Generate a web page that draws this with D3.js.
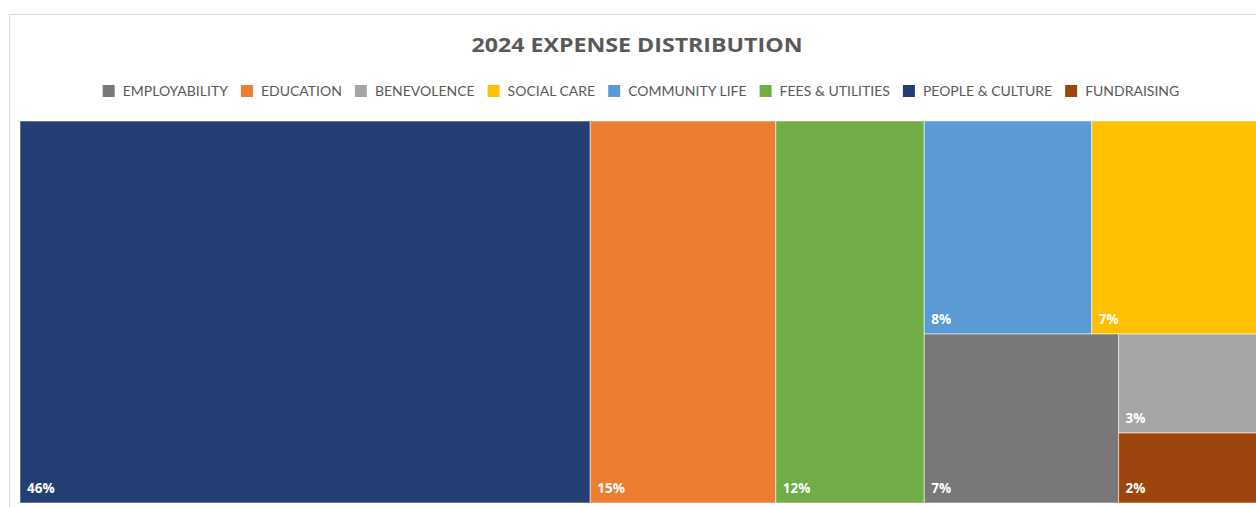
<!DOCTYPE html>
<html>
<head>
<meta charset="utf-8">
<script src="https://cdn.jsdelivr.net/npm/d3@7"></script>
<style>
  html, body { margin: 0; padding: 0; background: #ffffff; }
  svg { display: block; }
</style>
</head>
<body>
<svg id="chart" width="1256" height="507"></svg>
<script>
// Expense categories, in legend order
const categories = ["EMPLOYABILITY", "EDUCATION", "BENEVOLENCE", "SOCIAL CARE",
                    "COMMUNITY LIFE", "FEES & UTILITIES", "PEOPLE & CULTURE", "FUNDRAISING"];
// Share of total expenses (%)
const shares = [6.95, 15.0, 2.9, 7.45, 7.55, 12.0, 46.1, 2.05];
const colors = ["#787878", "#ed7d31", "#a5a5a5", "#ffc000",
                "#5b9bd5", "#70ad47", "#233f74", "#9c460d"];
// Nesting of the tiles (indices into categories), alternating column / row splits
const tileNesting = [6, 1, 5, [[4, 3], [0, [2, 7]]]];

const title = "2024 EXPENSE DISTRIBUTION";
const font = "Lato, 'Open Sans', sans-serif";
const boldFont = "'Open Sans', Lato, sans-serif";

const svg = d3.select("#chart");

// outer chart frame
svg.append("rect")
  .attr("x", 9.5).attr("y", 14.5)
  .attr("width", 1270).attr("height", 500)
  .attr("fill", "#ffffff")
  .attr("stroke", "#d9d9d9").attr("stroke-width", 1);

// title
const titleText = svg.append("text")
  .attr("x", 637).attr("y", 52)
  .attr("text-anchor", "middle")
  .attr("font-family", boldFont)
  .attr("font-weight", 700)
  .attr("font-size", 20)
  .attr("fill", "#595959")
  .text(title);
titleText.attr("textLength", 331).attr("lengthAdjust", "spacingAndGlyphs");

// legend
const legend = svg.append("g");
const items = legend.selectAll("g").data(categories).join("g");
items.append("rect")
  .attr("width", 12).attr("height", 12)
  .attr("y", -6)
  .attr("fill", (d, i) => colors[i]);
items.append("text")
  .attr("x", 20).attr("y", 5)
  .attr("font-family", font)
  .attr("font-size", 14)
  .attr("fill", "#595959")
  .text(d => d);
let cursor = 0;
items.each(function () {
  const w = d3.select(this).select("text").node().getComputedTextLength();
  d3.select(this).attr("transform", `translate(${cursor},0)`);
  cursor += 20 + w + 13;
});
const legendWidth = cursor - 13;
legend.attr("transform", `translate(${641 - legendWidth / 2},91)`);

// treemap
const plot = { x: 20, y: 121, w: 1237, h: 382 };
const build = n => Array.isArray(n) ? { children: n.map(build) } : { idx: n };
const root = d3.hierarchy(build(tileNesting))
  .sum(d => d.idx === undefined ? 0 : shares[d.idx]);

d3.treemap()
  .tile(d3.treemapSliceDice)
  .size([plot.w, plot.h])
  .paddingInner(0)(root);

const g = svg.append("g").attr("transform", `translate(${plot.x},${plot.y})`);
const leaves = g.selectAll("g.cell").data(root.leaves()).join("g").attr("class", "cell");
leaves.append("rect")
  .attr("x", d => d.x0).attr("y", d => d.y0)
  .attr("width", d => d.x1 - d.x0).attr("height", d => d.y1 - d.y0)
  .attr("fill", d => colors[d.data.idx])
  .attr("stroke", "rgba(255,255,255,0.55)")
  .attr("stroke-width", 1);
leaves.append("text")
  .attr("x", d => d.x0 + 7)
  .attr("y", d => d.y1 - 10)
  .attr("font-family", boldFont)
  .attr("font-weight", 700)
  .attr("font-size", 13.5)
  .attr("fill", "#ffffff")
  .text(d => Math.round(shares[d.data.idx]) + "%");
</script>
</body>
</html>
